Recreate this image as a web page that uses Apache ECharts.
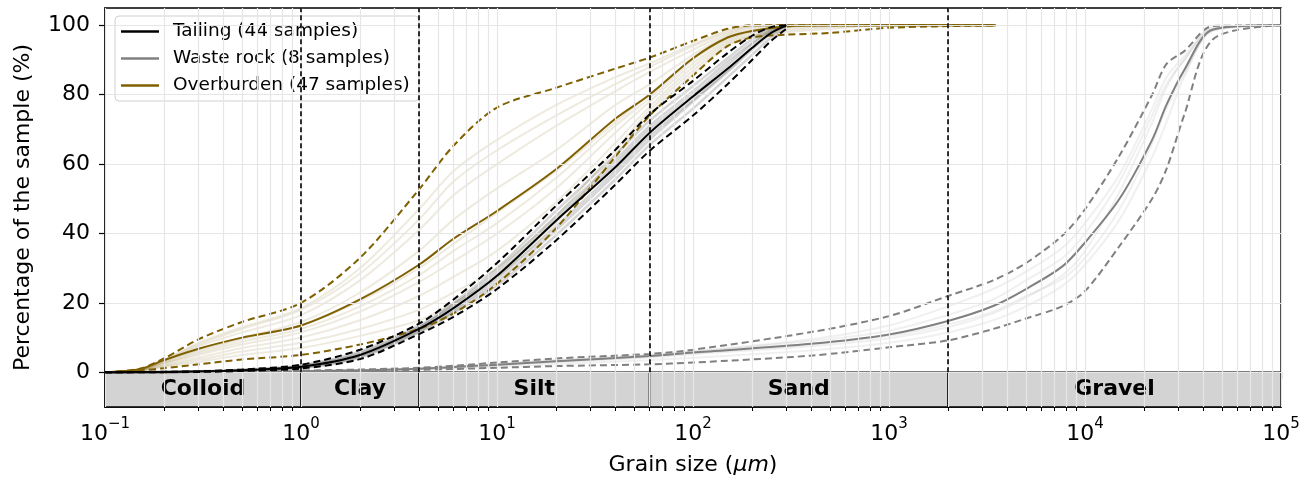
<!DOCTYPE html>
<html>
<head>
<meta charset="utf-8">
<script src="https://cdn.jsdelivr.net/npm/echarts@6/dist/echarts.min.js"></script>
<style>html,body{margin:0;padding:0;background:#fff}#main{width:1316px;height:481px}</style>
</head>
<body>
<div id="main"></div>
<script>
var chart = echarts.init(document.getElementById('main'));

// grain sizes (µm) per material
var tailSizes  = [0.1, 0.2, 0.3, 0.5, 1, 2, 4, 6, 10, 20, 40, 60, 100, 150, 200, 250, 300];
var overSizes  = [0.1, 0.15, 0.2, 0.3, 0.5, 1, 2, 4, 6, 10, 20, 40, 60, 100, 150, 200, 300, 500, 1000, 3500];
var wasteSizes = [0.1, 1, 4, 10, 20, 60, 100, 400, 1000, 2000, 3400, 5000, 7700, 10000, 15000, 22000, 26000, 32000, 45000, 100000];

// tailing
var tailMedian = [0, 0.1, 0.2, 0.6, 1.6, 5, 12.5, 18.5, 27.8, 43.7, 59, 69, 79.5, 87.5, 93.5, 97.8, 100];
var tailUpper  = [0, 0.15, 0.3, 0.8, 2.2, 6.5, 14, 21, 31.5, 48, 64, 74.3, 84, 92, 97, 99.5, 100];
var tailLower  = [0, 0.05, 0.1, 0.4, 1.1, 3.8, 11, 16, 24, 38, 54, 63.8, 74, 83, 90, 95.5, 99];
var tailSamples = [
    [0, 0.1, 0.2, 0.5, 1.4, 4.5, 11.8, 17.5, 26, 41, 57, 67, 78, 86.5, 93, 97.5, 100],
    [0, 0.1, 0.25, 0.7, 1.8, 5.5, 13, 19.5, 29, 45, 61, 71, 81, 89.5, 95, 98.5, 100],
    [0, 0.05, 0.15, 0.45, 1.2, 4.2, 11.5, 17, 25, 39.5, 55.5, 65.5, 76, 85, 91.5, 96.5, 99.5],
    [0, 0.1, 0.3, 0.75, 2, 6, 13.5, 20, 30, 46.5, 62.5, 72.5, 82.5, 90.5, 96, 99, 100],
    [0, 0.1, 0.2, 0.55, 1.5, 4.8, 12.2, 18, 27, 42, 58, 68, 78.5, 87, 93.5, 97.8, 100],
    [0, 0.1, 0.2, 0.6, 1.7, 5.2, 12.8, 19, 28, 44, 60, 70, 80, 88.5, 94.5, 98.2, 100]
];

// overburden
var overMedian = [0, 0.9, 3.5, 6.8, 10, 13.5, 21, 31, 38.5, 46.5, 58.5, 73, 80, 90.5, 96.5, 98.4, 99.7, 100, 100, 100];
var overUpper  = [0, 1, 4, 9.5, 14.5, 20, 33, 52.7, 65.3, 76.3, 82, 87.5, 90.7, 95.5, 99, 100, 100, 100, 100, 100];
var overLower  = [0, 0.5, 1.2, 2.3, 3.7, 5, 8, 12.5, 17, 25.5, 41.5, 62, 73.9, 85.5, 94, 96.5, 97.3, 97.8, 99.3, 100];
var overSamples = [
    [0, 0.9, 3.6, 8.5, 13, 18.5, 30, 47, 58, 67, 77, 85, 89, 94.5, 98.5, 99.8, 100, 100, 100, 100],
    [0, 0.8, 3.2, 7.5, 11.5, 16.5, 26.5, 41, 51, 60, 71, 81, 86.5, 93, 97.5, 99.5, 100, 100, 100, 100],
    [0, 0.7, 3, 6.5, 10, 14.5, 23, 35, 44, 53, 64, 77, 83, 91.5, 97, 99, 100, 100, 100, 100],
    [0, 0.7, 2.8, 6, 9.5, 13.5, 20.5, 30, 37, 46, 58, 72, 80, 90.5, 96.5, 98.5, 99.7, 100, 100, 100],
    [0, 0.6, 2.4, 5, 8, 11.5, 17.5, 26, 32, 40, 53, 69, 78, 89, 95.5, 98, 99.5, 100, 100, 100],
    [0, 0.6, 2, 4.2, 7, 10, 15, 22, 27.5, 35, 49, 66, 76.5, 88, 95, 97.5, 99, 99.8, 100, 100],
    [0, 0.5, 1.8, 3.6, 6, 8.5, 12.5, 18, 23, 30, 45, 64, 75.5, 87, 94.5, 97, 98.5, 99.5, 100, 100],
    [0, 0.5, 1.5, 3, 5, 7, 10.5, 15, 20, 27.5, 43, 62.5, 74.5, 86, 94, 96.8, 98, 99, 100, 100],
    [0, 0.8, 3.4, 8, 12.5, 18, 28.5, 44, 55, 64, 74, 83, 88, 94, 98, 99.8, 100, 100, 100, 100],
    [0, 0.6, 2.6, 5.5, 8.8, 12.5, 19, 28, 35, 43, 56, 71, 79, 90, 96, 98.3, 99.6, 100, 100, 100]
];

// waste rock
var wasteMedian = [0, 0.3, 1, 2.2, 3.2, 4.7, 5.7, 8.2, 10.9, 14.8, 19.1, 24, 30.6, 37.4, 50, 67, 77, 87, 98.8, 100];
var wasteUpper  = [0, 0.5, 1.3, 2.8, 4, 5.3, 6.5, 11.6, 16.2, 22, 26.5, 31.5, 39.5, 47, 62.5, 80, 88.8, 92.5, 99.8, 100];
var wasteLower  = [0, 0.2, 0.7, 1.3, 1.8, 2.3, 2.8, 4.8, 7.2, 9.2, 12.5, 15.5, 19.1, 23.4, 36.4, 50, 58.5, 74, 96, 100];
var wasteSamples = [
    [0, 0.3, 0.9, 2, 3, 4.3, 5.2, 7.5, 9.8, 13, 17, 21.5, 28, 35, 52, 72, 82, 90, 99, 100],
    [0, 0.4, 1.1, 2.5, 3.6, 5, 6, 9.5, 13.5, 19, 24, 29, 36, 43, 57, 76, 85, 91, 99.3, 100],
    [0, 0.25, 0.8, 1.6, 2.4, 3.5, 4.2, 6.3, 8.5, 11.5, 15, 19, 25, 31, 44, 62, 72, 85, 98.5, 100],
    [0, 0.3, 1, 2.1, 3.1, 4.5, 5.5, 8, 10.5, 13.8, 17.5, 22, 27, 33, 47, 66, 76, 86, 98.5, 100],
    [0, 0.35, 1.05, 2.3, 3.3, 4.9, 6, 9, 12, 16.5, 21, 26.5, 33, 40, 55, 74, 83, 90, 99, 100]
];

// classes and axes
var zoneEdges = [0.1, 1, 4, 60, 2000, 100000];
var zoneNames = ['Colloid', 'Clay', 'Silt', 'Sand', 'Gravel'];
var yTicks = [0, 20, 40, 60, 80, 100];
var xMajor = [0.1, 1, 10, 100, 1000, 10000, 100000];

var FONT = 'DejaVu Sans';
var cTail = '#000000', cWaste = '#808080', cOver = '#7f6000';

var xMinor = [];
for (var d = 0; d < xMajor.length - 1; d++) {
    for (var m = 2; m <= 9; m++) xMinor.push(+(xMajor[d] * m).toPrecision(3));
}

function pairs(xs, ys) {
    return xs.map(function (x, i) { return [x, ys[i]]; });
}

function curve(name, xs, ys, color, width, dashed, z) {
    return {
        name: name,
        type: 'line',
        data: pairs(xs, ys),
        symbol: 'none',
        smooth: 0.3,
        z: z,
        silent: true,
        lineStyle: { color: color, width: width, type: dashed ? [7, 4] : 'solid' },
        itemStyle: { color: color }
    };
}

var series = [];

// 网格线
var gridLines = [];
xMajor.concat(xMinor).forEach(function (v) { gridLines.push({ xAxis: v }); });
yTicks.forEach(function (v) { gridLines.push({ yAxis: v }); });
series.push({
    type: 'line', data: [], silent: true, z: 0,
    markLine: {
        silent: true, symbol: ['none', 'none'], animation: false,
        label: { show: false },
        lineStyle: { color: '#e6e6e6', width: 1.2, type: 'solid' },
        data: gridLines
    }
});

// 粒级色带
var areas = [];
for (var i = 0; i < zoneNames.length; i++) {
    areas.push([
        { name: zoneNames[i], coord: [zoneEdges[i], -10] },
        { coord: [zoneEdges[i + 1], 0] }
    ]);
}
series.push({
    type: 'line', data: [], silent: true, z: 1,
    markArea: {
        silent: true, animation: false,
        itemStyle: { color: '#d3d3d3', borderColor: '#000', borderWidth: 1.5 },
        label: { show: true, position: 'inside', color: '#000', fontWeight: 'bold', fontSize: 22, fontFamily: FONT },
        data: areas
    }
});

// 粒级分界虚线
var bounds = [];
for (var k = 1; k < zoneEdges.length - 1; k++) {
    bounds.push([{ coord: [zoneEdges[k], 0] }, { coord: [zoneEdges[k], 105] }]);
}
series.push({
    type: 'line', data: [], silent: true, z: 6,
    markLine: {
        silent: true, symbol: ['none', 'none'], animation: false,
        label: { show: false },
        lineStyle: { color: '#000', width: 1.6, type: [5, 3] },
        data: bounds
    }
});

// individual samples
overSamples.forEach(function (s) { series.push(curve('o', overSizes, s, 'rgba(127,96,0,0.13)', 2, false, 2)); });
tailSamples.forEach(function (s) { series.push(curve('t', tailSizes, s, 'rgba(0,0,0,0.16)', 2.5, false, 2)); });
wasteSamples.forEach(function (s) { series.push(curve('w', wasteSizes, s, 'rgba(128,128,128,0.12)', 2, false, 2)); });

// bounds and medians
series.push(curve('Overburden (47 samples)', overSizes, overMedian, cOver, 2, false, 4));
series.push(curve('ou', overSizes, overUpper, cOver, 2, true, 4));
series.push(curve('ol', overSizes, overLower, cOver, 2, true, 4));
series.push(curve('Waste rock (8 samples)', wasteSizes, wasteMedian, cWaste, 2, false, 4));
series.push(curve('wu', wasteSizes, wasteUpper, cWaste, 2, true, 4));
series.push(curve('wl', wasteSizes, wasteLower, cWaste, 2, true, 4));
series.push(curve('Tailing (44 samples)', tailSizes, tailMedian, cTail, 2, false, 5));
series.push(curve('tu', tailSizes, tailUpper, cTail, 2, true, 5));
series.push(curve('tl', tailSizes, tailLower, cTail, 2, true, 5));

var option = {
    animation: false,
    backgroundColor: '#fff',
    textStyle: { fontFamily: FONT },
    grid: { left: 105, right: 35, top: 8, bottom: 73, show: true, borderColor: '#000', borderWidth: 1.5, backgroundColor: 'transparent' },
    legend: {
        data: ['Tailing (44 samples)', 'Waste rock (8 samples)', 'Overburden (47 samples)'],
        orient: 'vertical',
        left: 115, top: 16,
        padding: [2, 9, 2, 6],
        icon: 'rect',
        itemWidth: 38, itemHeight: 2.5, itemGap: 0,
        backgroundColor: 'rgba(255,255,255,0.85)',
        borderColor: '#d0d0d0', borderWidth: 1, borderRadius: 4,
        textStyle: { fontSize: 18.5, color: '#000', fontFamily: FONT, lineHeight: 27, padding: [0, 0, 0, 9] }
    },
    xAxis: [{
        type: 'log', logBase: 10, min: 0.1, max: 100000,
        position: 'bottom',
        name: 'Grain size ({i|μm})',
        nameLocation: 'middle', nameGap: 47,
        nameTextStyle: { fontSize: 22, color: '#000', fontFamily: FONT, rich: { i: { fontSize: 22, fontStyle: 'italic', fontFamily: FONT } } },
        axisLine: { show: true, lineStyle: { color: '#000', width: 1.5 } },
        axisTick: { show: true, length: 7, lineStyle: { color: '#000', width: 1.2 }, customValues: xMajor },
        axisLabel: {
            show: true, margin: 10, color: '#000', fontSize: 22, fontFamily: FONT,
            customValues: xMajor,
            formatter: function (v) {
                var e = Math.round(Math.log(v) / Math.LN10);
                return '{n|10}{s|' + (e < 0 ? '\u2212' + (-e) : e) + '}';
            },
            rich: {
                n: { fontSize: 22, fontFamily: FONT, color: '#000', verticalAlign: 'bottom', lineHeight: 28 },
                s: { fontSize: 15, fontFamily: FONT, color: '#000', verticalAlign: 'top', lineHeight: 28, padding: [0, 0, 8, 0] }
            }
        },
        splitLine: { show: false }
    }, {
        type: 'log', logBase: 10, min: 0.1, max: 100000,
        position: 'bottom',
        axisLine: { show: false },
        axisTick: { show: true, length: 4, lineStyle: { color: '#000', width: 1 }, customValues: xMinor },
        axisLabel: { show: false },
        splitLine: { show: false }
    }],
    yAxis: {
        type: 'value', min: -10, max: 105,
        name: 'Percentage of the sample (%)',
        nameLocation: 'middle', nameGap: 71,
        nameTextStyle: { fontSize: 22, color: '#000', fontFamily: FONT },
        axisLine: { show: true, lineStyle: { color: '#000', width: 1.5 } },
        axisTick: { show: true, length: 6, lineStyle: { color: '#000', width: 1.2 }, customValues: yTicks },
        axisLabel: { show: true, margin: 15, color: '#000', fontSize: 22, fontFamily: FONT, customValues: yTicks },
        splitLine: { show: false }
    },
    series: series
};

chart.setOption(option);
</script>
</body>
</html>
